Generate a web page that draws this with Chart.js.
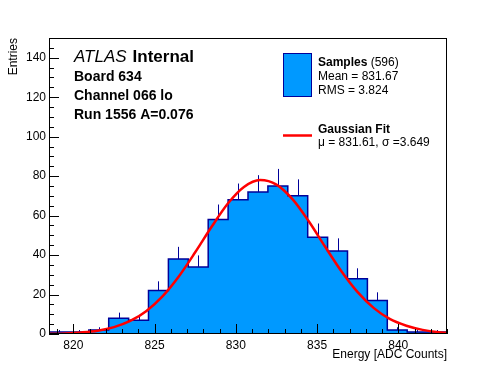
<!DOCTYPE html>
<html>
<head>
<meta charset="utf-8">
<script src="https://cdn.jsdelivr.net/npm/chart.js@4.4.1/dist/chart.umd.min.js"></script>
<style>
  html, body { margin: 0; padding: 0; background: #fff; }
  canvas { display: block; }
</style>
</head>
<body>
<canvas id="energyChart" width="496" height="372"></canvas>
<script>
// histogram: 20 bins
const binEdges = [818.5, 819.725, 820.95, 822.175, 823.4, 824.625, 825.85, 827.075, 828.3, 829.525,
  830.75, 831.975, 833.2, 834.425, 835.65, 836.875, 838.1, 839.325, 840.55, 841.775, 843.0];
const sampleCounts = [1, 1, 2, 8, 7, 22, 38, 34, 58, 68, 72, 75, 70, 49, 42, 28, 17, 2, 1, 1];

// gaussian fit curve
const fitEnergies = [818.5, 819.5, 820.5, 821.5, 822.5, 823.5, 824.5, 825.5, 826.5, 827.5, 828.5, 829.5,
  830.5, 831.5, 832.5, 833.5, 834.5, 835.5, 836.5, 837.5, 838.5, 839.5, 840.5, 841.5, 842.5, 843.0];
const fitEntries = [0.1, 0.3, 0.8, 1.7, 3.5, 6.6, 11.7, 19.2, 29.3, 41.4, 54.2, 66.0,
  74.5, 78.0, 75.7, 68.2, 57.0, 44.2, 31.8, 21.2, 13.1, 7.5, 4.2, 2.1, 0.9, 0.6];

const energyTicks = [820, 825, 830, 835, 840];
const entryTicks = [0, 20, 40, 60, 80, 100, 120, 140];
const infoLines = ['Board 634', 'Channel 066 lo', 'Run 1556 A=0.076'];

const FONT = '"Liberation Sans", Arial, Helvetica, sans-serif';
const FILL_BLUE = '#0099ff';
const LINE_BLUE = '#000099';
const FIT_RED = '#ff0000';

function histogramPoints() {
  const points = sampleCounts.map(function (count, i) {
    return { x: binEdges[i], y: count };
  });
  points.push({ x: binEdges[binEdges.length - 1], y: sampleCounts[sampleCounts.length - 1] });
  return points;
}

const rootStylePlugin = {
  id: 'rootStyle',
  afterDatasetDraw(chart, args) {
    // error bars (upper half, the lower half sits under the fill)
    if (args.index !== 1) {
      return;
    }
    const ctx = chart.ctx;
    const xs = chart.scales.x;
    const ys = chart.scales.y;
    ctx.save();
    ctx.strokeStyle = LINE_BLUE;
    ctx.lineWidth = 1;
    sampleCounts.forEach(function (count, i) {
      const center = Math.round(xs.getPixelForValue((binEdges[i] + binEdges[i + 1]) / 2)) + 0.5;
      ctx.beginPath();
      ctx.moveTo(center, ys.getPixelForValue(count));
      ctx.lineTo(center, ys.getPixelForValue(count + Math.sqrt(count)));
      ctx.stroke();
    });
    ctx.restore();
  },
  afterDraw(chart) {
    const ctx = chart.ctx;
    const area = chart.chartArea;
    const xs = chart.scales.x;
    const ys = chart.scales.y;
    ctx.save();

    // frame and inward ticks
    ctx.strokeStyle = '#000';
    ctx.lineWidth = 1;
    ctx.strokeRect(Math.round(area.left) + 0.5, Math.round(area.top) + 0.5,
      Math.round(area.right - area.left) - 1, Math.round(area.bottom - area.top) - 1);
    ctx.beginPath();
    for (let v = Math.ceil(xs.min); v <= xs.max; v += 1) {
      const px = Math.round(xs.getPixelForValue(v)) + 0.5;
      const len = energyTicks.indexOf(v) >= 0 ? 10 : 5;
      ctx.moveTo(px, area.bottom);
      ctx.lineTo(px, area.bottom - len);
    }
    for (let v = 0; v <= ys.max; v += 5) {
      const py = Math.round(ys.getPixelForValue(v)) + 0.5;
      const len = entryTicks.indexOf(v) >= 0 ? 10 : 5;
      ctx.moveTo(area.left, py);
      ctx.lineTo(area.left + len, py);
    }
    ctx.stroke();

    ctx.fillStyle = '#000';
    ctx.textBaseline = 'alphabetic';

    // axis titles
    ctx.font = '12px ' + FONT;
    ctx.textAlign = 'right';
    ctx.fillText('Energy [ADC Counts]', area.right, 358);
    ctx.save();
    ctx.translate(17, area.top);
    ctx.rotate(-Math.PI / 2);
    ctx.fillText('Entries', 0, 0);
    ctx.restore();

    // ATLAS label block
    ctx.textAlign = 'left';
    ctx.font = 'italic 17px ' + FONT;
    ctx.fillText('ATLAS', 74, 62);
    const atlasWidth = ctx.measureText('ATLAS').width;
    ctx.font = 'bold 17px ' + FONT;
    ctx.fillText('Internal', 74 + atlasWidth + 6, 62);
    ctx.font = 'bold 14px ' + FONT;
    infoLines.forEach(function (line, i) {
      ctx.fillText(line, 74, 81 + i * 19);
    });

    // legend
    ctx.fillStyle = FILL_BLUE;
    ctx.fillRect(283.5, 53.5, 28, 43);
    ctx.strokeStyle = LINE_BLUE;
    ctx.strokeRect(283.5, 53.5, 28, 43);
    ctx.strokeStyle = FIT_RED;
    ctx.lineWidth = 2.5;
    ctx.beginPath();
    ctx.moveTo(283, 135.5);
    ctx.lineTo(312, 135.5);
    ctx.stroke();

    ctx.fillStyle = '#000';
    ctx.font = 'bold 12px ' + FONT;
    ctx.fillText('Samples', 318, 66);
    const samplesWidth = ctx.measureText('Samples').width;
    ctx.font = '12px ' + FONT;
    ctx.fillText(' (' + sampleCounts.reduce(function (a, b) { return a + b; }, 0) + ')', 318 + samplesWidth, 66);
    ctx.fillText('Mean = 831.67', 318, 80);
    ctx.fillText('RMS = 3.824', 318, 94);
    ctx.font = 'bold 12px ' + FONT;
    ctx.fillText('Gaussian Fit', 318, 133);
    ctx.font = '12px ' + FONT;
    ctx.fillText('\u03bc = 831.61, \u03c3 =3.649', 318, 146);

    ctx.restore();
  }
};

new Chart(document.getElementById('energyChart'), {
  type: 'line',
  data: {
    datasets: [
      {
        label: 'Gaussian Fit',
        data: fitEnergies.map(function (e, i) { return { x: e, y: fitEntries[i] }; }),
        borderColor: FIT_RED,
        borderWidth: 2.5,
        pointRadius: 0,
        fill: false,
        cubicInterpolationMode: 'monotone',
        order: 0
      },
      {
        label: 'Samples',
        data: histogramPoints(),
        borderColor: LINE_BLUE,
        backgroundColor: FILL_BLUE,
        borderWidth: 1.5,
        pointRadius: 0,
        stepped: true,
        fill: 'origin',
        order: 1
      }
    ]
  },
  options: {
    responsive: false,
    animation: false,
    layout: { padding: { left: 0, top: 38, right: 49, bottom: 0 } },
    plugins: {
      legend: { display: false },
      tooltip: { enabled: false }
    },
    scales: {
      x: {
        type: 'linear',
        min: 818.5,
        max: 843,
        grid: { display: false, drawTicks: false },
        border: { display: false },
        afterBuildTicks: function (scale) {
          scale.ticks = energyTicks.map(function (v) { return { value: v }; });
        },
        afterFit: function (scale) { scale.height = 38; },
        ticks: {
          color: '#000',
          padding: 4,
          maxRotation: 0,
          font: { family: FONT, size: 12 }
        }
      },
      y: {
        min: 0,
        max: 150,
        grid: { display: false, drawTicks: false },
        border: { display: false },
        afterBuildTicks: function (scale) {
          scale.ticks = entryTicks.map(function (v) { return { value: v }; });
        },
        afterFit: function (scale) { scale.width = 49; },
        ticks: {
          color: '#000',
          padding: 3,
          font: { family: FONT, size: 12 }
        }
      }
    }
  },
  plugins: [rootStylePlugin]
});
</script>
</body>
</html>
